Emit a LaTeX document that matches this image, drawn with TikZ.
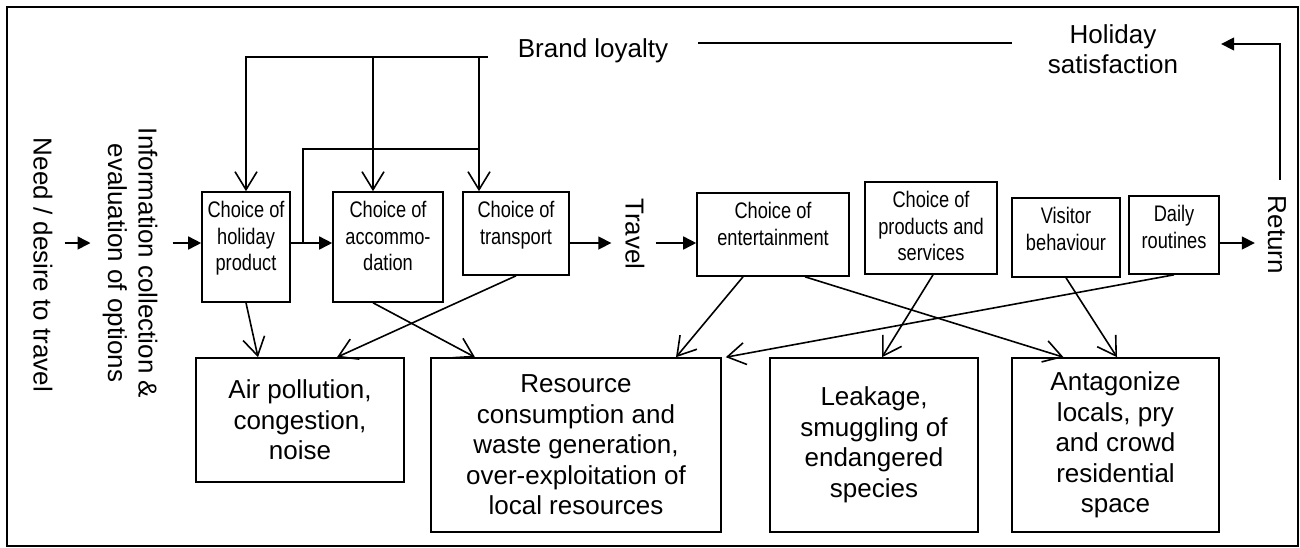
\documentclass[tikz,border=0pt]{standalone}
\usepackage{fontspec}
\setmainfont{Liberation Sans}
\newfontfamily\narrowfont[FakeStretch=0.81]{Liberation Sans}
\usetikzlibrary{arrows.meta,calc}

\begin{document}
\begin{tikzpicture}[x=1pt,y=-1pt,line width=1.6pt,
  box/.style={draw,line width=1.6pt,inner sep=0pt},
  bigtext/.style={font=\fontsize{26}{30.5}\selectfont,align=center},
  smalltext/.style={font=\narrowfont\fontsize{22.5}{26.5}\selectfont,align=center,inner sep=0pt},
  flow/.style={-{Triangle[length=13pt,width=13pt]}},
  fb/.style={-{Straight Barb[length=18pt,width=22pt,line width=1.6pt]}},
]
\useasboundingbox (0,0) rectangle (1300,547);
% outer frame
\draw[line width=2pt] (7,7) rectangle (1298,545.5);

% row of the main sequence
\coordinate (row) at (0,243);

% vertical stage labels
\node[bigtext,rotate=-90] (need) at (43,265) {Need / desire to travel};
\node[bigtext,rotate=-90] (info) at (130,263) {Information collection \&\\evaluation of options};
\node[bigtext,rotate=-90] (travel) at (635,234) {Travel};
\node[bigtext,rotate=-90] (ret) at (1277,235) {Return};

% top labels
\node[bigtext] (brand) at (593,51) {Brand loyalty};
\node[bigtext] (sat) at (1113,49) {Holiday\\satisfaction};

% choice boxes
\node[box,minimum width=88pt,minimum height=110pt] (hol) at (246,247) {};
\node[box,minimum width=110pt,minimum height=110pt] (acc) at (388,247) {};
\node[box,minimum width=106pt,minimum height=83pt] (tra) at (516,233.5) {};
\node[box,minimum width=152pt,minimum height=83pt] (ent) at (773,234.5) {};
\node[box,minimum width=132pt,minimum height=92pt] (pro) at (931,228) {};
\node[box,minimum width=108pt,minimum height=79pt] (vis) at (1066,237.5) {};
\node[box,minimum width=90pt,minimum height=78pt] (dai) at (1174,235) {};

\node[smalltext,anchor=north] (holT) at ([yshift=-9.5pt]hol.north) {Choice of\\holiday\\product};
\node[smalltext,anchor=north] (accT) at ([yshift=-9.5pt]acc.north) {Choice of\\accommo-\\dation};
\node[smalltext,anchor=north] (traT) at ([yshift=-9.5pt]tra.north) {Choice of\\transport};
\node[smalltext,anchor=north] (entT) at ([yshift=-9.5pt]ent.north) {Choice of\\entertainment};
\node[smalltext,anchor=north] (proT) at ([yshift=-9.5pt]pro.north) {Choice of\\products and\\services};
\node[smalltext,anchor=north] (visT) at ([yshift=-9.5pt]vis.north) {Visitor\\behaviour};
\node[smalltext,anchor=north] (daiT) at ([yshift=-9.5pt]dai.north) {Daily\\routines};

% impact boxes
\node[box,bigtext,minimum width=208pt,minimum height=124pt] (air) at (300,420) {Air pollution,\\congestion,\\noise};
\node[box,bigtext,minimum width=290pt,minimum height=174pt] (res) at (576,445) {Resource\\consumption and\\waste generation,\\over-exploitation of\\local resources};
\node[box,bigtext,minimum width=208pt,minimum height=174pt] (lea) at (874,445) {Leakage,\\smuggling of\\endangered\\species};
\node[box,bigtext,minimum width=207pt,minimum height=174pt] (ant) at (1115.5,445) {Antagonize\\locals, pry\\and crowd\\residential\\space};

% main sequence
\draw[flow,shorten <=8pt,shorten >=8pt] (need.north |- row) -- (info.south |- row);
\draw[flow,shorten <=11pt] (info.north |- row) -- (hol.west |- row);
\draw[flow] (hol.east |- row) -- (acc.west |- row);
\draw[flow,shorten >=10pt] (tra.east |- row) -- (travel.south |- row);
\draw[flow,shorten <=7pt] (travel.north |- row) -- (ent.west |- row);
\draw[flow,shorten >=9pt] (dai.east |- row) -- (ret.south |- row);

% feedback loop
\draw[flow,shorten <=12pt,shorten >=39pt] ([xshift=3pt]ret.west) |- ([yshift=5pt]sat.east);
\draw[shorten <=26pt,shorten >=32pt] ([yshift=8pt]brand.east) -- ([yshift=6pt]sat.west);

\coordinate (blpt) at ([yshift=-6pt]brand.west);
\coordinate (accin) at ([xshift=-15pt]acc.north);
\coordinate (train) at ([xshift=-37pt]tra.north);
\coordinate (branch) at (303,243);
\draw[fb,shorten <=26pt] (blpt) -| (hol.north);
\draw[fb] (accin |- blpt) -- (accin);
\draw[fb] (train |- blpt) -- (train);
\draw (branch) |- (train |- 0,149);

% impacts
\draw[fb] (hol.south) -- ([xshift=-42pt]air.north);
\draw[fb] (tra.south) -- ([xshift=37pt]air.north);
\draw[fb] ([xshift=-15pt]acc.south) -- ([xshift=-101pt]res.north);
\draw[fb] ([xshift=-30pt]ent.south) -- ([xshift=100pt]res.north);
\draw[fb] ([xshift=32pt]ent.south) -- ([xshift=-52pt]ant.north);
\draw[fb] ([xshift=2pt]pro.south) -- ([xshift=8pt]lea.north);
\draw[fb] (vis.south) -- ([xshift=1.5pt]ant.north);
\draw[fb] (dai.south) -- ([xshift=4pt]res.north east);
\end{tikzpicture}
\end{document}
